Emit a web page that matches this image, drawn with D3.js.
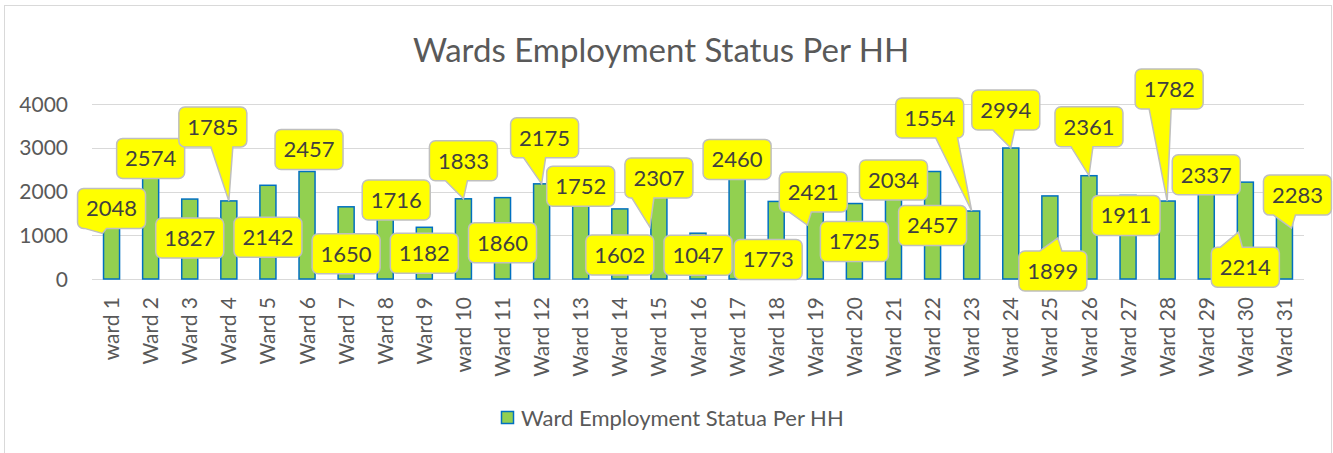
<!DOCTYPE html>
<html>
<head>
<meta charset="utf-8">
<script src="https://cdn.jsdelivr.net/npm/d3@7"></script>
<style>
  body { margin: 0; background: #fff; }
  svg { font-family: Lato, "Open Sans", sans-serif; }
</style>
</head>
<body>
<svg width="1333" height="453"></svg>
<script>
var chartTitle = "Wards Employment Status Per HH";
var seriesName = "Ward Employment Statua Per HH";

var wards = ["ward 1", "Ward 2", "Ward 3", "Ward 4", "Ward 5", "Ward 6", "Ward 7", "Ward 8",
    "Ward 9", "ward 10", "Ward 11", "Ward 12", "Ward 13", "Ward 14", "Ward 15", "Ward 16",
    "Ward 17", "Ward 18", "Ward 19", "Ward 20", "Ward 21", "Ward 22", "Ward 23", "Ward 24",
    "Ward 25", "Ward 26", "Ward 27", "Ward 28", "Ward 29", "Ward 30", "Ward 31"];

var households = [2048, 2574, 1827, 1785, 2142, 2457, 1650, 1716, 1182, 1833, 1860, 2175,
    1752, 1602, 2307, 1047, 2460, 1773, 2421, 1725, 2034, 2457, 1554, 2994, 1899, 2361,
    1911, 1782, 2337, 2214, 2283];

var yTicks = [0, 1000, 2000, 3000, 4000];

// callout boxes were dragged around by hand: offset of box centre from the bar top
var calloutOffset = [[0, 19], [0, -8], [0, 39], [-16, -74], [0, 52], [2, -22], [0, 47],
    [11, -4], [0, 26], [0, -38], [0, 45], [3, -46], [0, -16], [0, 46], [0, 0], [0, 22],
    [0, -12], [-8, 58], [-2, 19], [0, 38], [0, -10], [0, 54], [-42, -93], [-5, -38],
    [3, 75], [0, -49], [-2, 20], [2, -112], [0, -2], [0, 85], [13, 16]];

// end of the callout pointer, relative to the bar top (null = pointer hidden)
var calloutTip = [[-9, 44], null, null, [0, 0], null, null, null, null, null, [0, 0],
    null, [0, 0], null, null, [-9, 49], null, null, null, [-8, 52], null, null, null,
    [0, 0], [0, 0], [8, 42], [0, 0], null, [0, 0], null, [-7, 50], [7, 49]];

var svg = d3.select("svg");
var margin = {top: 104, left: 92, right: 29, bottom: 174};
var width = 1333 - margin.left - margin.right,
    height = 453 - margin.top - margin.bottom;

// chart frame
svg.append("rect")
    .attr("x", 4.5).attr("y", 5.5)
    .attr("width", 1327).attr("height", 460)
    .attr("fill", "#fff")
    .attr("stroke", "#d9d9d9")
    .attr("stroke-width", 1);

svg.append("text")
    .attr("x", 661)
    .attr("y", 62)
    .attr("text-anchor", "middle")
    .attr("fill", "#595959")
    .style("font-size", "33px")
    .text(chartTitle);

var x = d3.scaleBand().domain(wards).range([0, width]).paddingInner(0.59).paddingOuter(0.295);
var y = d3.scaleLinear().domain([0, 4000]).range([height, 0]);

var g = svg.append("g").attr("transform", "translate(" + margin.left + "," + margin.top + ")");

// gridlines
g.selectAll(".grid")
    .data(yTicks)
    .enter().append("line")
    .attr("x1", 0).attr("x2", width)
    .attr("y1", function(d) { return Math.round(y(d)) + 0.5; })
    .attr("y2", function(d) { return Math.round(y(d)) + 0.5; })
    .attr("stroke", "#d9d9d9")
    .attr("stroke-width", 1);

// Add the Y Axis labels
g.selectAll(".ytick")
    .data(yTicks)
    .enter().append("text")
    .attr("x", -24)
    .attr("y", function(d) { return y(d); })
    .attr("dy", "0.36em")
    .attr("text-anchor", "end")
    .attr("fill", "#595959")
    .style("font-size", "21px")
    .text(function(d) { return d; });

// Add the X Axis labels, rotated
g.selectAll(".xtick")
    .data(wards)
    .enter().append("text")
    .attr("transform", function(d) {
        return "translate(" + (x(d) + x.bandwidth() / 2) + "," + (height + 18) + ") rotate(-90)";
    })
    .attr("dy", "0.36em")
    .attr("text-anchor", "end")
    .attr("fill", "#595959")
    .style("font-size", "21px")
    .text(function(d) { return d; });

// bars
g.selectAll(".bar")
    .data(households)
    .enter().append("rect")
    .attr("x", function(d, i) { return x(wards[i]); })
    .attr("y", function(d) { return y(d); })
    .attr("width", x.bandwidth())
    .attr("height", function(d) { return height - y(d); })
    .attr("fill", "#92d050")
    .attr("stroke", "#0070c0")
    .attr("stroke-width", 1.5);

// callouts
var boxW = 68, boxH = 40, r = 6;

function calloutPath(x0, y0, x1, y1, tip) {
    var p = d3.path();
    var side = null, b1, b2;
    if (tip) {
        if (tip[1] > y1) side = "bottom";
        else if (tip[1] < y0) side = "top";
        b1 = Math.max(x0 + r, Math.min(tip[0] - 18, x1 - r - 22));
        b2 = b1 + 22;
    }
    p.moveTo(x0 + r, y0);
    if (side == "top") { p.lineTo(b1, y0); p.lineTo(tip[0], tip[1]); p.lineTo(b2, y0); }
    p.lineTo(x1 - r, y0);
    p.arcTo(x1, y0, x1, y0 + r, r);
    p.lineTo(x1, y1 - r);
    p.arcTo(x1, y1, x1 - r, y1, r);
    if (side == "bottom") { p.lineTo(b2, y1); p.lineTo(tip[0], tip[1]); p.lineTo(b1, y1); }
    p.lineTo(x0 + r, y1);
    p.arcTo(x0, y1, x0, y1 - r, r);
    p.lineTo(x0, y0 + r);
    p.arcTo(x0, y0, x0 + r, y0, r);
    p.closePath();
    return p.toString();
}

var callouts = g.selectAll(".callout")
    .data(households)
    .enter().append("g");

callouts.append("path")
    .attr("d", function(d, i) {
        var bx = x(wards[i]) + x.bandwidth() / 2, by = y(d);
        var cx = bx + calloutOffset[i][0], cy = by + calloutOffset[i][1];
        var tip = calloutTip[i] ? [bx + calloutTip[i][0], by + calloutTip[i][1]] : null;
        return calloutPath(cx - boxW / 2, cy - boxH / 2, cx + boxW / 2, cy + boxH / 2, tip);
    })
    .attr("fill", "#ffff00")
    .attr("stroke", "#bfbfbf")
    .attr("stroke-width", 1.5);

callouts.append("text")
    .attr("x", function(d, i) { return x(wards[i]) + x.bandwidth() / 2 + calloutOffset[i][0]; })
    .attr("y", function(d, i) { return y(d) + calloutOffset[i][1]; })
    .attr("dy", "0.36em")
    .attr("text-anchor", "middle")
    .attr("fill", "#404040")
    .style("font-size", "22px")
    .text(function(d) { return d; });

// Legend
svg.append("rect")
    .attr("x", 501.5).attr("y", 411.5)
    .attr("width", 12).attr("height", 12)
    .attr("fill", "#92d050")
    .attr("stroke", "#0070c0")
    .attr("stroke-width", 1.5);

svg.append("text")
    .attr("x", 521)
    .attr("y", 418)
    .attr("dy", "0.36em")
    .attr("fill", "#595959")
    .style("font-size", "22px")
    .text(seriesName);
</script>
</body>
</html>
